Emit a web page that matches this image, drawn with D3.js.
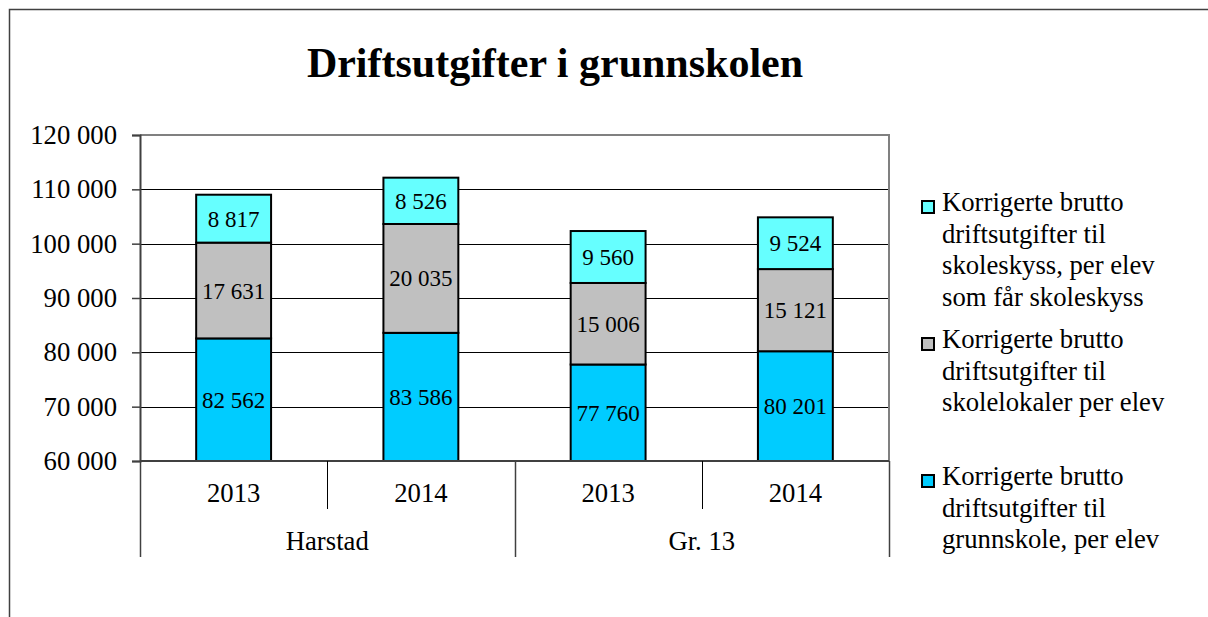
<!DOCTYPE html>
<html>
<head>
<meta charset="utf-8">
<script src="https://cdn.jsdelivr.net/npm/d3@7"></script>
<style>
  html, body { margin: 0; padding: 0; background: #fff; }
  svg { display: block; }
  text { font-family: "Liberation Serif", "Times New Roman", serif; fill: #000; }
</style>
</head>
<body>
<svg id="chart" width="1208" height="617"></svg>
<script>
// ---- data ----
const title = "Driftsutgifter i grunnskolen";
const groups = ["Harstad", "Gr. 13"];
const years = ["2013", "2014"];
const categories = ["Harstad 2013", "Harstad 2014", "Gr. 13 2013", "Gr. 13 2014"];
const grunnskole = [82562, 83586, 77760, 80201];
const skolelokaler = [17631, 20035, 15006, 15121];
const skoleskyss = [8817, 8526, 9560, 9524];
const yTicks = [60000, 70000, 80000, 90000, 100000, 110000, 120000];
const seriesNames = [
  ["Korrigerte brutto", "driftsutgifter til", "skoleskyss, per elev", "som får skoleskyss"],
  ["Korrigerte brutto", "driftsutgifter til", "skolelokaler per elev"],
  ["Korrigerte brutto", "driftsutgifter til", "grunnskole, per elev"]
];
const colors = ["#66FFFF", "#C0C0C0", "#00CCFF"];

// ---- layout ----
const svg = d3.select("#chart");
const L = 140, R = 889, T = 135, B = 461;
const fmt = v => d3.format(",")(v).replace(/,/g, " ");

// outer frame
svg.append("path").attr("d", "M9.5,617 V9.5 H1208")
  .attr("fill", "none").attr("stroke", "#404040").attr("stroke-width", 1.5);

// title
svg.append("text").attr("x", 555).attr("y", 77).attr("text-anchor", "middle")
  .style("font-size", "42px").style("font-weight", "bold").text(title);

const x = d3.scaleBand().domain(categories).range([L, R]).paddingInner(0).paddingOuter(0);
const y = d3.scaleLinear().domain([60000, 120000]).range([B, T]);
const barW = x.bandwidth() * 0.4;

// gridlines
svg.append("g").selectAll("line").data(yTicks.filter(t => t > 60000 && t < 120000)).join("line")
  .attr("x1", L).attr("x2", R).attr("y1", d => Math.round(y(d)) + 0.5).attr("y2", d => Math.round(y(d)) + 0.5)
  .attr("stroke", "#000").attr("stroke-width", 1);

// plot area border (top, right)
svg.append("path").attr("d", `M${L},${T} H${R} V${B}`)
  .attr("fill", "none").attr("stroke", "#808080").attr("stroke-width", 2);

// y axis
const yAxis = d3.axisLeft(y).tickValues(yTicks).tickSize(8).tickFormat(fmt);
const gy = svg.append("g").attr("transform", `translate(${L},0)`).call(yAxis);
gy.attr("font-family", null).attr("font-size", null);
gy.select(".domain").attr("stroke", "#404040").attr("stroke-width", 2);
gy.selectAll(".tick line").attr("stroke", "#404040").attr("stroke-width", 1.5);
gy.selectAll(".tick text").attr("x", -23).attr("dy", "0.32em")
  .style("font-size", "26.7px").style("font-family", "Liberation Serif");

// stacked bars
const stackData = categories.map((c, i) => ({ cat: c, a: grunnskole[i], b: skolelokaler[i], c: skoleskyss[i] }));
const stack = d3.stack().keys(["a", "b", "c"])(stackData);
const keyColor = { a: colors[2], b: colors[1], c: colors[0] };
stack.forEach(layer => {
  const g = svg.append("g");
  g.selectAll("rect").data(layer).join("rect")
    .attr("x", d => x(d.data.cat) + (x.bandwidth() - barW) / 2)
    .attr("y", d => y(d[1]))
    .attr("width", barW)
    .attr("height", d => y(Math.max(d[0], 60000)) - y(d[1]))
    .attr("fill", keyColor[layer.key])
    .attr("stroke", "#000").attr("stroke-width", 2);
});
stack.forEach(layer => {
  svg.append("g").selectAll("text").data(layer).join("text")
    .attr("x", d => x(d.data.cat) + x.bandwidth() / 2)
    .attr("y", d => (y(Math.max(d[0], 60000)) + y(d[1])) / 2)
    .attr("dy", "0.35em").attr("text-anchor", "middle")
    .style("font-size", "23px")
    .text(d => fmt(d[1] - d[0]));
});

// x axis
const gx = svg.append("g").attr("transform", `translate(0,${B})`)
  .call(d3.axisBottom(x).tickSize(0).tickFormat(""));
gx.select(".domain").attr("stroke", "#404040").attr("stroke-width", 2).attr("d", `M${L},0H${R}`);
gx.selectAll(".tick").remove();

// category separators
const bounds = categories.map(c => x(c)).concat([R]);
svg.append("g").selectAll("line").data(bounds).join("line")
  .attr("x1", (d) => Math.round(d) + 0.5).attr("x2", d => Math.round(d) + 0.5)
  .attr("y1", B).attr("y2", (d, i) => (i % 2 === 0 ? 557 : 509))
  .attr("stroke", (d, i) => (i % 2 === 0 ? "#404040" : "#000")).attr("stroke-width", (d, i) => (i % 2 === 0 ? 1.5 : 1));

// year labels
svg.append("g").selectAll("text").data(categories).join("text")
  .attr("x", d => x(d) + x.bandwidth() / 2).attr("y", 502).attr("text-anchor", "middle")
  .style("font-size", "26.7px").text((d, i) => years[i % 2]);

// group labels
svg.append("g").selectAll("text").data(groups).join("text")
  .attr("x", (d, i) => x(categories[i * 2]) + x.bandwidth()).attr("y", 550).attr("text-anchor", "middle")
  .style("font-size", "26.7px").text(d => d);

// legend
const legendTop = [211, 348, 485];
const lg = svg.append("g");
seriesNames.forEach((lines, i) => {
  lg.append("rect").attr("x", 922).attr("y", legendTop[i] - 10).attr("width", 12).attr("height", 12)
    .attr("fill", colors[i]).attr("stroke", "#000").attr("stroke-width", 2);
  const t = lg.append("text").attr("x", 942).attr("y", legendTop[i]).style("font-size", "26.7px");
  lines.forEach((ln, j) => {
    t.append("tspan").attr("x", 942).attr("y", legendTop[i] + j * 31.7).text(ln);
  });
});
</script>
</body>
</html>
